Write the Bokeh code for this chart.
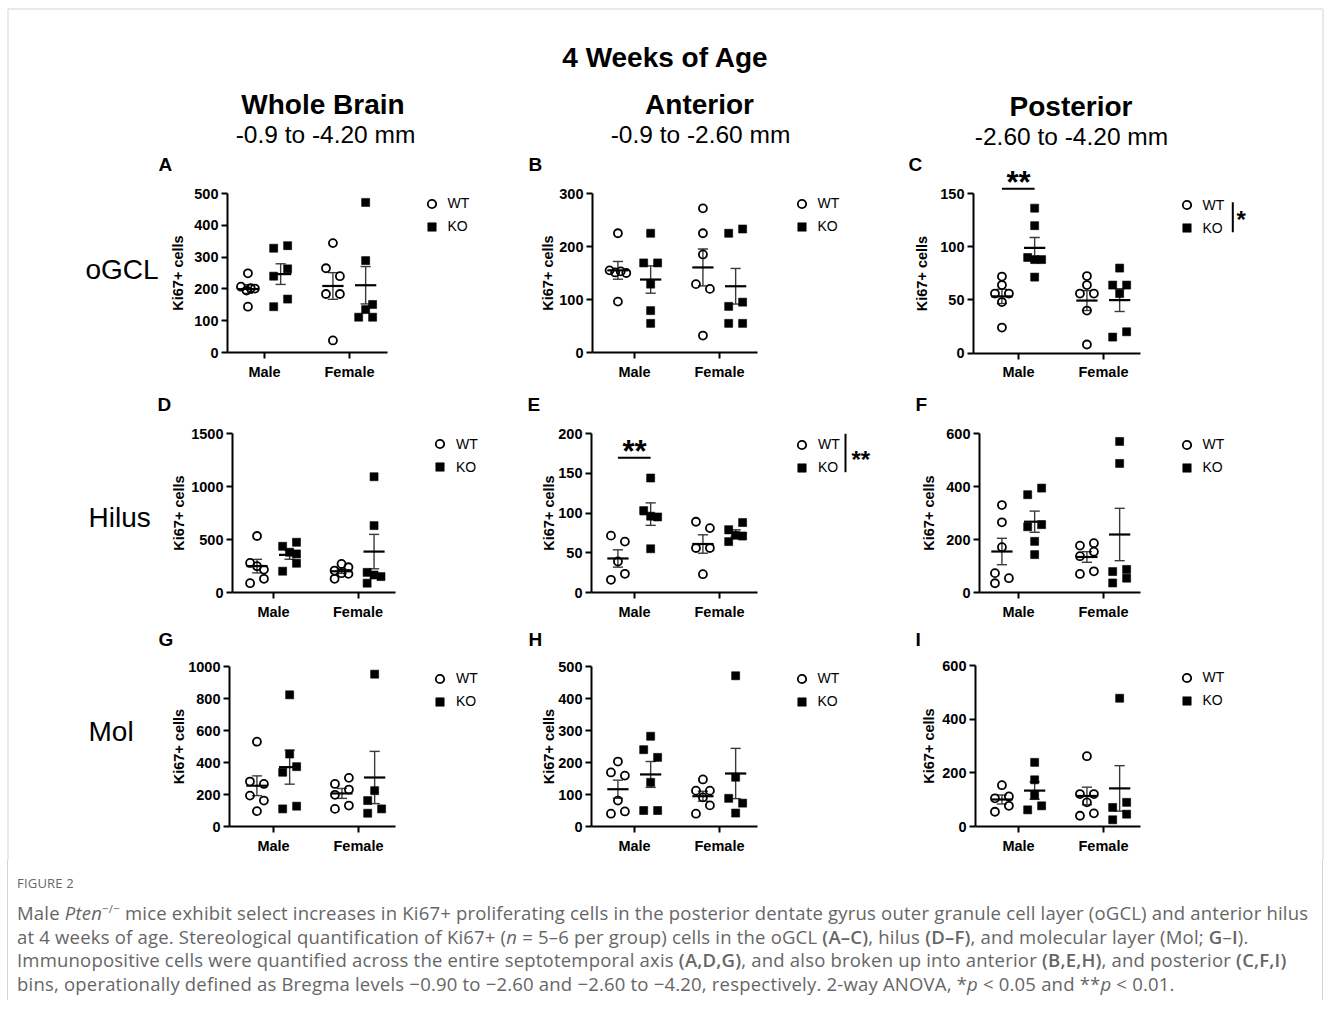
import numpy as np
from bokeh.plotting import figure
from bokeh.models import (Range1d, LinearAxis, FixedTicker, Legend, LegendItem,
                          ColumnDataSource, Div)
from bokeh.layouts import column
from bokeh.embed import file_html
from bokeh.resources import INLINE
from bokeh.core.properties import value

# ---------------------------------------------------------------- data
CATEGORIES = ["Male", "Female"]
GENOTYPES = ["WT", "KO"]
MAIN_TITLE = "4 Weeks of Age"
COLUMN_TITLES = ["Whole Brain", "Anterior", "Posterior"]
COLUMN_RANGES = ["-0.9 to -4.20 mm", "-0.9 to -2.60 mm", "-2.60 to -4.20 mm"]
ROW_TITLES = ["oGCL", "Hilus", "Mol"]
PANELS = ["A", "B", "C", "D", "E", "F", "G", "H", "I"]
Y_LABEL = "Ki67+ cells"
Y_TICKS = {
    "A": [0, 100, 200, 300, 400, 500],
    "B": [0, 100, 200, 300],
    "C": [0, 50, 100, 150],
    "D": [0, 500, 1000, 1500],
    "E": [0, 50, 100, 150, 200],
    "F": [0, 200, 400, 600],
    "G": [0, 200, 400, 600, 800, 1000],
    "H": [0, 100, 200, 300, 400, 500],
    "I": [0, 200, 400, 600],
}
# (category of the pairwise test, its stars, stars of the genotype main effect)
SIGNIFICANCE = {"C": ("Male", "**", "*"), "E": ("Male", "**", "**")}

# Ki67+ cells per animal; *_POS = place of the point inside its scatter column
A_WT_MALE = [249, 207, 195, 202, 201, 144]
A_WT_MALE_POS = [0, -1, -0.2, 0.4, 1, 0]
A_KO_MALE = [328, 336, 263, 240, 144, 168]
A_KO_MALE_POS = [-1, 1, 1, -1, -1, 1]
A_WT_FEMALE = [344, 265, 240, 184, 184, 38]
A_WT_FEMALE_POS = [0, -1, 1, -1, 1, 0]
A_KO_FEMALE = [472, 289, 151, 135, 111, 111]
A_KO_FEMALE_POS = [0, 0, 1, 0, -1, 1]

B_WT_MALE = [225, 155, 151, 153, 150, 96]
B_WT_MALE_POS = [0, -1.2, -0.4, 0.4, 1.2, 0]
B_KO_MALE = [225, 169, 169, 129, 79, 55]
B_KO_MALE_POS = [0, -1, 1, 0, 0, 0]
B_WT_FEMALE = [272, 225, 185, 129, 120, 32]
B_WT_FEMALE_POS = [0, 0, 0, -1, 1, 0]
B_KO_FEMALE = [225, 233, 87, 95, 55, 55]
B_KO_FEMALE_POS = [-1, 1, -1, 1, -1, 1]

C_WT_MALE = [72, 64, 56, 56, 48, 24]
C_WT_MALE_POS = [0, 0, -1, 1, 0, 0]
C_KO_MALE = [136.5, 120, 90, 88, 88, 71.5]
C_KO_MALE_POS = [0, 0, -1, 0, 1, 0]
C_WT_FEMALE = [72.5, 64, 56, 56, 40, 8]
C_WT_FEMALE_POS = [0, 0, -1, 1, 0, 0]
C_KO_FEMALE = [80, 64, 64, 56, 15, 20]
C_KO_FEMALE_POS = [0, -1, 1, 0, -1, 1]

D_WT_MALE = [533, 279, 248, 216, 129, 88]
D_WT_MALE_POS = [0, -1, 0, 1, 1, -1]
D_KO_MALE = [436, 474, 380, 364, 276, 201]
D_KO_MALE_POS = [-1, 1, 0, 1, 1, -1]
D_WT_FEMALE = [270, 238, 207, 182, 176, 129]
D_WT_FEMALE_POS = [0, 1, -1, 0, 1, -1]
D_KO_FEMALE = [1092, 631, 190, 165, 150, 88]
D_KO_FEMALE_POS = [0, 0, -1, 0, 1, -1]

E_WT_MALE = [71.5, 64, 39, 23.5, 16]
E_WT_MALE_POS = [-1, 1, 0, 1, -1]
E_KO_MALE = [144, 103, 96, 95, 55]
E_KO_MALE_POS = [0, -1, 0, 1, 0]
E_WT_FEMALE = [89, 81, 56, 56, 23]
E_WT_FEMALE_POS = [-1, 1, -1, 1, 0]
E_KO_FEMALE = [88, 79, 72, 71, 64]
E_KO_FEMALE_POS = [1, -1, 0, 1, -1]

F_WT_MALE = [330, 265, 171, 73, 54, 35]
F_WT_MALE_POS = [0, 0, 0, -1, 1, -1]
F_KO_MALE = [394, 369, 256, 248, 193, 143]
F_KO_MALE_POS = [1, -1, 1, -1, 0, 0]
F_WT_FEMALE = [186, 177, 154, 137, 80, 70]
F_WT_FEMALE_POS = [1, -1, 1, -1, 1, -1]
F_KO_FEMALE = [570, 487, 87, 79, 54, 36]
F_KO_FEMALE_POS = [0, 0, 1, -1, 1, -1]

G_WT_MALE = [530, 281, 266, 193, 162, 96]
G_WT_MALE_POS = [0, -1, 1, -1, 1, 0]
G_KO_MALE = [823, 453, 374, 339, 127, 110]
G_KO_MALE_POS = [0, 0, 1, -1, 1, -1]
G_WT_FEMALE = [304, 266, 231, 198, 131, 110]
G_WT_FEMALE_POS = [1, -1, 1, -1, 1, -1]
G_KO_FEMALE = [952, 224, 162, 110, 83]
G_KO_FEMALE_POS = [0, 0, -1, 1, -1]

H_WT_MALE = [203, 169, 159, 81, 47, 40]
H_WT_MALE_POS = [0, -1, 1, 0, 1, -1]
H_KO_MALE = [282, 240, 216, 138, 50, 50]
H_KO_MALE_POS = [0, -1, 1, 0, -1, 1]
H_WT_FEMALE = [147, 112, 112, 91, 66, 40]
H_WT_FEMALE_POS = [0, -1, 1, 0, 1, -1]
H_KO_FEMALE = [471, 154, 88, 73, 42]
H_KO_FEMALE_POS = [0, 0, -1, 1, 0]

I_WT_MALE = [154, 112, 105, 77, 55]
I_WT_MALE_POS = [0, 1, -1, 1, -1]
I_KO_MALE = [239, 174, 117, 77, 62]
I_KO_MALE_POS = [0, 0, 0, 1, -1]
I_WT_FEMALE = [262, 121, 121, 90, 49, 40]
I_WT_FEMALE_POS = [0, -1, 1, 0, 1, -1]
I_KO_FEMALE = [478, 90, 71, 46, 25]
I_KO_FEMALE_POS = [0, 1, -1, 1, -1]


def group(letter, geno, cat):
    name = f"{letter}_{geno}_{cat.upper()}"
    return (np.array(globals()[name], float),
            np.array(globals()[name + "_POS"], float))


# ---------------------------------------------------------------- layout
FONT = "Liberation Sans"
X0, Y0 = 0, 0                 # page origin of the figure
FIG_W, FIG_H = 1325, 860
X1, Y1 = X0 + FIG_W, Y0 + FIG_H

# page pixels: frame left, Male x, Female x, frame right, top tick, zero line
FRAME = {
    "A": (227, 264, 349, 387, 193, 352),
    "B": (592, 634, 719, 757, 193, 352),
    "C": (973, 1018, 1103, 1140, 193.3, 352.5),
    "D": (232, 273, 357.5, 395, 433, 592),
    "E": (591, 634, 719, 757, 433, 592),
    "F": (979, 1018, 1103, 1140, 433, 592),
    "G": (229, 273, 358, 395, 666, 826),
    "H": (591, 634, 719, 757, 666, 826),
    "I": (975, 1018, 1103, 1140, 665, 826),
}
LEGEND_AT = {"A": (431, 203), "B": (801, 203), "C": (1186, 204.5),
             "D": (439.5, 443.5), "E": (801.5, 444), "F": (1186, 444),
             "G": (439.5, 678), "H": (801, 678), "I": (1186, 677)}
AXIS_LABEL_STANDOFF = {"A": 5, "B": 0, "C": 7, "D": 1, "E": -2, "F": 6,
                       "G": -2, "H": -2, "I": 2}
LETTER_AT = {"A": (158, 164), "B": (528, 164), "C": (908, 164),
             "D": (157, 404), "E": (527, 404), "F": (915, 404),
             "G": (158, 639), "H": (528, 639), "I": (915, 639)}
SIG_BAR_Y = {"C": 188.3, "E": 457.3}
SIG_STAR_OFFSET = {"C": -6.3, "E": -6.6}
SIG_BRACKET = {"C": (1232.3, 201.7, 231.7, 1236, 218.5),
               "E": (845, 433.3, 471.7, 851, 459)}
GENO_OFFSET = {"WT": -0.195, "KO": 0.19}
SLOT_W = 0.082
MEAN_HALF = 0.125
CAP_HALF = 0.06

p = figure(width=FIG_W, height=FIG_H, x_range=Range1d(X0, X1),
           y_range=Range1d(Y1, Y0), output_backend="svg",
           toolbar_location=None, min_border=0, x_axis_location=None,
           y_axis_location=None, background_fill_color="white",
           border_fill_color="white", outline_line_color=None)
p.xgrid.visible = False
p.ygrid.visible = False

xr, yr = {}, {}
for L in PANELS:
    left, mx, fx, right, top, bot = FRAME[L]
    k = fx - mx
    s = (bot - top) / Y_TICKS[L][-1]
    xr[L] = Range1d(1 + (X0 - mx) / k, 1 + (X1 - mx) / k)
    yr[L] = Range1d((bot - Y1) / s, (bot - Y0) / s)
p.extra_x_ranges = xr
p.extra_y_ranges = yr

# figure frame (light grey rule)
p.line(x=[7.5, 7.5, 1322.5, 1322.5], y=[Y1, 8.5, 8.5, Y1],
       line_color="#d4d4d4", line_width=1)


def style_axis(ax):
    ax.axis_line_width = 2
    ax.axis_line_color = "black"
    ax.major_tick_line_width = 2
    ax.major_tick_line_color = "black"
    ax.major_tick_out = 6
    ax.major_tick_in = 0
    ax.minor_tick_line_color = None
    ax.major_label_text_font = FONT
    ax.major_label_text_font_style = "bold"
    ax.major_label_text_font_size = "14.5px"
    ax.major_label_text_color = "black"


for L in PANELS:
    left, mx, fx, right, top, bot = FRAME[L]
    k = fx - mx
    s = (bot - top) / Y_TICKS[L][-1]
    x_lo, x_hi = 1 + (left - mx) / k, 1 + (right - mx) / k
    kw = dict(x_range_name=L, y_range_name=L)

    bars = dict(x0=[], y0=[], x1=[], y1=[])
    means = dict(x0=[], y0=[], x1=[], y1=[])
    pts = {}
    for g in GENOTYPES:
        xs, ys = [], []
        for ci, c in enumerate(CATEGORIES):
            vals, pos = group(L, g, c)
            cx = ci + 1 + GENO_OFFSET[g]
            xs += list(cx + pos * SLOT_W)
            ys += list(vals)
            m = vals.mean()
            se = vals.std(ddof=1) / np.sqrt(len(vals))
            for (a, b, c2, d) in [(cx, m - se, cx, m + se),
                                  (cx - CAP_HALF, m + se, cx + CAP_HALF, m + se),
                                  (cx - CAP_HALF, m - se, cx + CAP_HALF, m - se)]:
                bars["x0"].append(a); bars["y0"].append(b)
                bars["x1"].append(c2); bars["y1"].append(d)
            means["x0"].append(cx - MEAN_HALF); means["x1"].append(cx + MEAN_HALF)
            means["y0"].append(m); means["y1"].append(m)
        pts[g] = ColumnDataSource(dict(x=xs, y=ys))

    p.segment("x0", "y0", "x1", "y1", source=ColumnDataSource(bars),
              line_color="#3a3a3a", line_width=1.4, **kw)
    p.segment("x0", "y0", "x1", "y1", source=ColumnDataSource(means),
              line_color="black", line_width=2.2, **kw)
    r_wt = p.scatter("x", "y", source=pts["WT"], marker="circle", size=8,
                     fill_color=None, line_color="black", line_width=1.8, **kw)
    r_ko = p.scatter("x", "y", source=pts["KO"], marker="square", size=8,
                     fill_color="black", line_color="black", line_width=0.6, **kw)

    yax = LinearAxis(fixed_location=x_lo, bounds=(0, Y_TICKS[L][-1]),
                     ticker=FixedTicker(ticks=Y_TICKS[L]), axis_label=Y_LABEL,
                     axis_label_text_font=FONT, axis_label_text_font_style="bold",
                     axis_label_text_font_size="14.5px",
                     axis_label_text_color="black",
                     axis_label_standoff=AXIS_LABEL_STANDOFF[L],
                     major_label_standoff=3, **kw)
    style_axis(yax)
    p.add_layout(yax, "left")
    xax = LinearAxis(fixed_location=0, bounds=(x_lo, x_hi),
                     ticker=FixedTicker(ticks=[1, 2]),
                     major_label_overrides={i + 1: c for i, c in enumerate(CATEGORIES)},
                     major_label_standoff=5, **kw)
    style_axis(xax)
    p.add_layout(xax, "below")

    gw, gh = 21, 23
    lx, ly = LEGEND_AT[L]
    legend = Legend(items=[LegendItem(label=GENOTYPES[0], renderers=[r_wt]),
                           LegendItem(label=GENOTYPES[1], renderers=[r_ko])],
                    location=(lx - gw / 2 - X0, Y1 - (ly - gh / 2 + 2 * gh)),
                    orientation="vertical", glyph_width=gw, glyph_height=gh,
                    label_height=gh, label_standoff=6, spacing=0, padding=0,
                    margin=0, border_line_color=None, background_fill_alpha=0,
                    label_text_font=FONT, label_text_font_size="14px",
                    label_text_color="black")
    p.add_layout(legend)

    if L in SIGNIFICANCE:
        cat, pair_stars, main_stars = SIGNIFICANCE[L]
        ci = CATEGORIES.index(cat) + 1
        yb = (bot - SIG_BAR_Y[L]) / s
        p.segment(x0=[ci + GENO_OFFSET["WT"]], y0=[yb], x1=[ci + GENO_OFFSET["KO"]],
                  y1=[yb], line_color="black", line_width=2, **kw)
        p.text(x=[ci], y=[yb], text=[pair_stars], text_align="center",
               text_baseline="alphabetic", y_offset=SIG_STAR_OFFSET[L],
               text_font=value(FONT), text_font_style="bold",
               text_font_size="31px", text_color="black", **kw)
        bx, by0, by1, sx, sy = SIG_BRACKET[L]
        p.segment(x0=[bx], y0=[by0], x1=[bx], y1=[by1], line_color="black", line_width=2)
        p.text(x=[sx], y=[sy], text=[main_stars], text_align="left",
               text_baseline="alphabetic", text_font=value(FONT),
               text_font_style="bold", text_font_size="24px", text_color="black")

# titles and labels
p.text(x=[665], y=[57], text=[MAIN_TITLE], text_align="center",
       text_baseline="alphabetic", text_font=value(FONT), text_font_style="bold",
       text_font_size="28px", text_color="black")
p.text(x=[322.5, 699, 1070.5], y=[104, 104, 106], text=COLUMN_TITLES,
       text_align="center", text_baseline="alphabetic", text_font=value(FONT),
       text_font_style="bold", text_font_size="28px", text_color="black")
p.text(x=[325, 700, 1071], y=[134, 134, 136], text=COLUMN_RANGES,
       text_align="center", text_baseline="alphabetic", text_font=value(FONT),
       text_font_size="24.5px", text_color="black")
p.text(x=[85, 88, 88], y=[269, 517, 731], text=ROW_TITLES, text_align="left",
       text_baseline="alphabetic", text_font=value(FONT), text_font_size="28px",
       text_color="black")
p.text(x=[LETTER_AT[L][0] for L in PANELS], y=[LETTER_AT[L][1] for L in PANELS],
       text=PANELS, text_align="left", text_baseline="alphabetic",
       text_font=value(FONT), text_font_style="bold", text_font_size="19px",
       text_color="black")

B600 = '<b style="font-weight:600;">'
CAPTION = (
    '<div style="position:relative;width:1325px;height:140px;'
    "font-family:'Open Sans';color:#666666;\">"
    '<div style="position:absolute;left:7px;top:0;width:1316px;height:140px;'
    'box-sizing:border-box;border-left:1px solid #d4d4d4;border-right:1px solid #d4d4d4;"></div>'
    '<div style="position:absolute;left:17px;top:14px;font-size:13px;line-height:18px;'
    'letter-spacing:0.2px;">FIGURE 2</div>'
    '<div style="position:absolute;left:17px;top:41px;font-size:18.5px;line-height:23.5px;'
    'letter-spacing:0.2px;white-space:nowrap;">'
    'Male <i>Pten</i><sup style="font-size:11.5px;line-height:0;">&minus;/&minus;</sup> mice exhibit select increases '
    'in Ki67+ proliferating cells in the posterior dentate gyrus outer granule cell layer (oGCL) and anterior hilus<br>'
    'at 4 weeks of age. Stereological quantification of Ki67+ (<i>n</i> = 5&ndash;6 per group) cells in the oGCL '
    + B600 + '(A&ndash;C)</b>, hilus ' + B600 + '(D&ndash;F)</b>, and molecular '
    'layer (Mol; ' + B600 + 'G</b>&ndash;' + B600 + 'I</b>).<br>'
    'Immunopositive cells were quantified across the entire septotemporal axis ' + B600 + '(A,D,G)</b>, '
    'and also broken up into anterior ' + B600 + '(B,E,H)</b>, and posterior '
    + B600 + '(C,F,I)</b><br>'
    'bins, operationally defined as Bregma levels &minus;0.90 to &minus;2.60 and &minus;2.60 to &minus;4.20, '
    'respectively. 2-way ANOVA, *<i>p</i> &lt; 0.05 and **<i>p</i> &lt; 0.01.'
    '</div></div>'
)
cap = Div(text=CAPTION, width=FIG_W, height=140, margin=(0, 0, 0, 0))

layout = column(p, cap, spacing=0)
open("out.html", "w").write(file_html(layout, INLINE))
